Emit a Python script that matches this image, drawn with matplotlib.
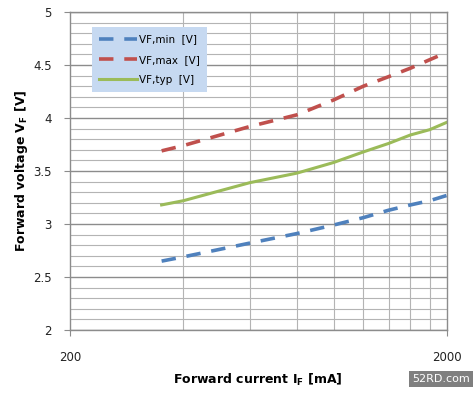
import numpy as np
import matplotlib.pyplot as plt
from matplotlib.ticker import FixedLocator, NullFormatter, NullLocator

# values (forward current mA -> forward voltage V)
current_ma = [350, 400, 600, 800, 1000, 1200, 1400, 1600, 1800, 2000]
vf_min = [2.65, 2.69, 2.82, 2.91, 2.99, 3.06, 3.13, 3.18, 3.22, 3.27]
vf_max = [3.69, 3.74, 3.92, 4.03, 4.17, 4.30, 4.39, 4.47, 4.55, 4.62]
vf_typ = [3.18, 3.22, 3.39, 3.48, 3.58, 3.68, 3.76, 3.84, 3.89, 3.96]
series_labels = ["VF,min  [V]", "VF,max  [V]", "VF,typ  [V]"]

grid_x = [400, 600, 800, 1000, 1200, 1400, 1600, 1800]
ytick_major = [2, 2.5, 3, 3.5, 4, 4.5, 5]
ytick_labels = ["2", "2.5", "3", "3.5", "4", "4.5", "5"]

fig = plt.figure(figsize=(4.77, 3.94), dpi=100)
ax = fig.add_axes([70 / 477, 1 - 330 / 394, 377 / 477, 318 / 394])

ax.set_xscale("log")
ax.set_xlim(200, 2000)
ax.set_ylim(2, 5)

# gridlines
ax.yaxis.set_major_locator(FixedLocator(ytick_major))
ax.yaxis.set_minor_locator(FixedLocator(np.arange(2.1, 5.0, 0.1)))
ax.grid(True, which="major", axis="y", color="#8c8c8c", lw=1.0)
ax.grid(True, which="minor", axis="y", color="#b4b4b4", lw=0.8)
for gx in grid_x:
    ax.axvline(gx, color="#b4b4b4", lw=0.8, zorder=0.5)
ax.set_axisbelow(True)

ax.plot(current_ma, vf_min, color="#4F81BD", lw=2.6, dashes=(4, 3), label=series_labels[0])
ax.plot(current_ma, vf_max, color="#C0504D", lw=2.6, dashes=(4, 3), label=series_labels[1])
ax.plot(current_ma, vf_typ, color="#9BBB59", lw=2.2, label=series_labels[2])

ax.set_yticklabels(ytick_labels, fontsize=8.5, color="#222222")
ax.xaxis.set_major_locator(FixedLocator([200, 2000]))
ax.xaxis.set_minor_locator(NullLocator())
ax.xaxis.set_minor_formatter(NullFormatter())
ax.set_xticklabels(["200", "2000"], fontsize=8.5, color="#222222")
ax.tick_params(axis="x", length=4, pad=11, color="#8c8c8c")
ax.tick_params(axis="y", which="major", length=4, pad=9, color="#8c8c8c")
ax.tick_params(axis="y", which="minor", length=0)

for side in ["left", "bottom", "right", "top"]:
    ax.spines[side].set_color("#8c8c8c")
    ax.spines[side].set_linewidth(1.0)

fig.text(22 / 477, 1 - 171 / 394, "Forward voltage V$_\\mathregular{F}$ [V]",
         rotation=90, ha="center", va="center", fontsize=9, fontweight="bold")
fig.text(258 / 477, 1 - 380 / 394, "Forward current I$_\\mathregular{F}$ [mA]",
         ha="center", va="center", fontsize=9, fontweight="bold")

leg = ax.legend(loc="upper left", bbox_to_anchor=(22 / 377, 1 - 15 / 318),
                frameon=True, fancybox=False, fontsize=7.5, handlelength=3.6,
                handletextpad=0.2, labelspacing=1.0, borderpad=0.7,
                borderaxespad=0)
leg.get_frame().set_facecolor("#C6D9F1")
leg.get_frame().set_edgecolor("none")
leg.get_frame().set_alpha(1)

fig.text(441 / 477, 1 - 379 / 394, "52RD.com", ha="center", va="center",
         fontsize=8, color="white",
         bbox=dict(boxstyle="square,pad=0.25", fc="#7f7f7f", ec="none"))

fig.savefig("out.png", dpi=100)
